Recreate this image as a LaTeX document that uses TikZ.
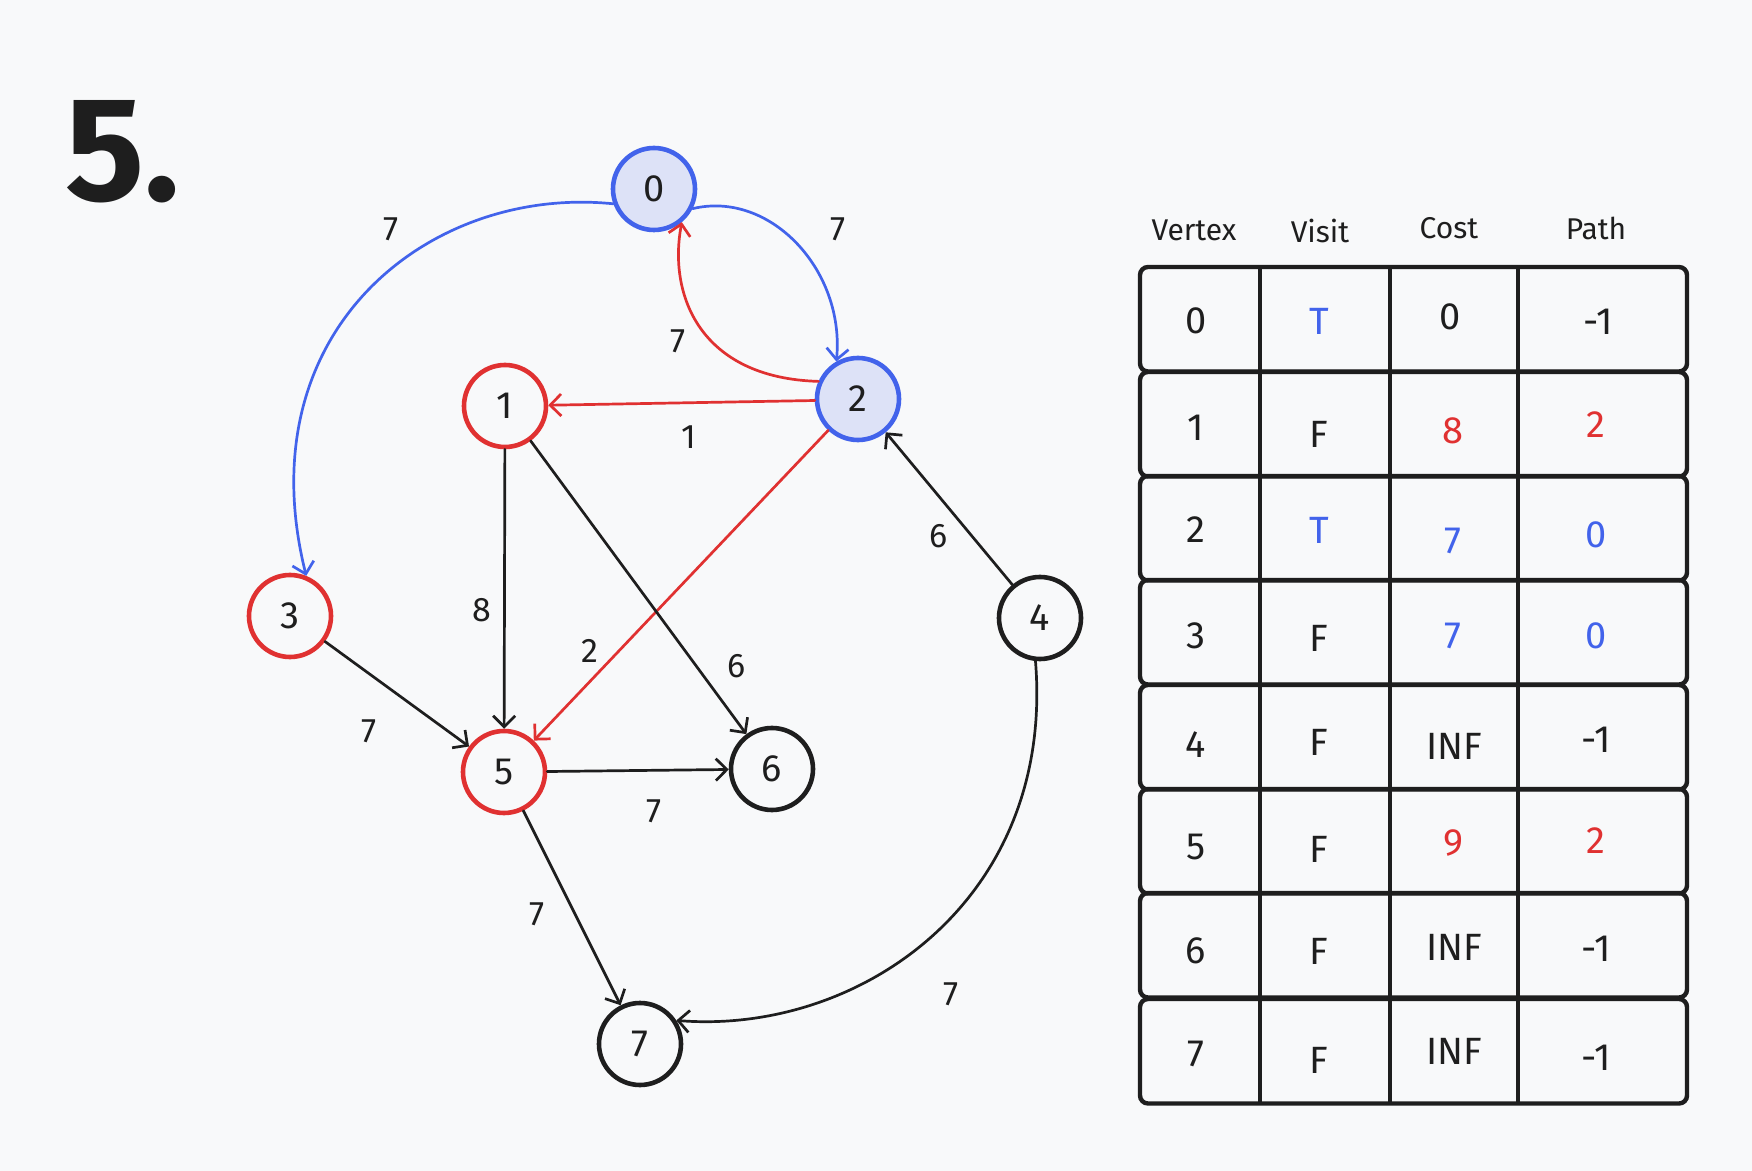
\documentclass[tikz,border=0pt]{standalone}
\usepackage{fontspec}
\setmainfont{Fira Sans}
\usetikzlibrary{arrows.meta}
\definecolor{exblue}{HTML}{4263EB}
\definecolor{exred}{HTML}{E03131}
\definecolor{exblack}{HTML}{1E1E1E}
\definecolor{exfill}{HTML}{DDE2F7}
\definecolor{bg}{HTML}{F8F9FA}
\tikzset{
  vtx/.style={circle, draw=exblack, line width=2.3pt, minimum size=41pt, inner sep=0pt, font=\fontsize{19}{19}\selectfont, text=exblack},
  vred/.style={vtx, draw=exred},
  vblue/.style={vtx, draw=exblue, fill=exfill},
  edge/.style={line width=1.35pt, draw=exblack, -{Straight Barb[length=5.5pt,width=11pt,line width=1.35pt]}, line cap=round},
  bedge/.style={edge, draw=exblue},
  redge/.style={edge, draw=exred},
  wlbl/.style={font=\fontsize{17}{17}\selectfont, text=exblack, inner sep=0pt},
  rowbox/.style={draw=exblack, line width=2.2pt, rounded corners=4pt},
  coldiv/.style={draw=exblack, line width=2.2pt},
  cell/.style={font=\fontsize{19}{19}\selectfont, text=exblack, inner sep=0pt},
  hdr/.style={font=\fontsize{15}{15}\selectfont, text=exblack, inner sep=0pt}
}
\begin{document}
\begin{tikzpicture}[x=0.5pt,y=-0.5pt]
\useasboundingbox[fill=bg] (0,0) rectangle (1752,1171);

% title
\node[font=\fontsize{74}{74}\selectfont\bfseries, text=exblack, inner sep=0pt] (title) at (123,152) {5.};

% vertices
\node[vblue] (n0) at (654,189) {0};
\node[vred]  (n1) at (505,406) {1};
\node[vblue] (n2) at (858,399) {2};
\node[vred]  (n3) at (290,616) {3};
\node[vtx]   (n4) at (1040,618) {4};
\node[vred]  (n5) at (504,772) {5};
\node[vtx]   (n6) at (772,769) {6};
\node[vtx]   (n7) at (640,1044) {7};

% edges
\draw[bedge] (n0.200) .. controls (430,185) and (245,330) .. (n3.68);
\draw[bedge] (n0.333) .. controls (770,190) and (845,270) .. (n2.120);
\draw[redge] (n2.156) .. controls (700,378) and (668,295) .. (n0.310);
\draw[redge] (n2.182) -- (n1);
\draw[redge] (n2) -- (n5);
\draw[edge] (n4) -- (n2);
\draw[edge] (n1) -- (n5);
\draw[edge] (n1) -- (n6);
\draw[edge] (n3) -- (n5);
\draw[edge] (n5) -- (n6);
\draw[edge] (n5) -- (n7);
\draw[edge] (n4.264) .. controls (1055,900) and (860,1035) .. (n7.33);

% edge weights
\node[wlbl] (w03) at (391,229) {7};
\node[wlbl] (w02) at (838,229) {7};
\node[wlbl] (w20) at (678,341) {7};
\node[wlbl] (w21) at (689,437) {1};
\node[wlbl] (w25) at (590,651) {2};
\node[wlbl] (w42) at (939,536) {6};
\node[wlbl] (w15) at (482,610) {8};
\node[wlbl] (w16) at (737,666) {6};
\node[wlbl] (w35) at (369,731) {7};
\node[wlbl] (w56) at (654,811) {7};
\node[wlbl] (w57) at (537,914) {7};
\node[wlbl] (w47) at (951,994) {7};

% table header
\node[hdr] (hV) at (1194,230) {Vertex};
\node[hdr] (hS) at (1320,231) {Visit};
\node[hdr] (hC) at (1449,228) {Cost};
\node[hdr] (hP) at (1596,228) {Path};

% table rows
\foreach \t [count=\i from 0] in {267,372,476,580,685,789,893,999} {
  \pgfmathsetmacro{\b}{\t+104.5}
  \draw[rowbox] (1140,\t) rectangle (1687,\b);
  \draw[coldiv] (1260,\t) -- (1260,\b);
  \draw[coldiv] (1390,\t) -- (1390,\b);
  \draw[coldiv] (1518,\t) -- (1518,\b);
}

% cells
\node[cell] (r0a) at (1196,321) {0};
\node[cell, text=exblue] (r0b) at (1319,321) {T};
\node[cell] (r0c) at (1450,317) {0};
\node[cell] (r0d) at (1598,322) {-1};

\node[cell] (r1a) at (1196,428) {1};
\node[cell] (r1b) at (1319,434) {F};
\node[cell, text=exred] (r1c) at (1453,431) {8};
\node[cell, text=exred] (r1d) at (1596,425) {2};

\node[cell] (r2a) at (1196,530) {2};
\node[cell, text=exblue] (r2b) at (1319,530) {T};
\node[cell, text=exblue] (r2c) at (1453,541) {7};
\node[cell, text=exblue] (r2d) at (1596,535) {0};

\node[cell] (r3a) at (1196,636) {3};
\node[cell] (r3b) at (1319,638) {F};
\node[cell, text=exblue] (r3c) at (1453,636) {7};
\node[cell, text=exblue] (r3d) at (1596,636) {0};

\node[cell] (r4a) at (1196,745) {4};
\node[cell] (r4b) at (1319,742) {F};
\node[cell] (r4c) at (1454,746) {INF};
\node[cell] (r4d) at (1596,740) {-1};

\node[cell] (r5a) at (1196,847) {5};
\node[cell] (r5b) at (1319,849) {F};
\node[cell, text=exred] (r5c) at (1453,843) {9};
\node[cell, text=exred] (r5d) at (1596,841) {2};

\node[cell] (r6a) at (1196,951) {6};
\node[cell] (r6b) at (1319,951) {F};
\node[cell] (r6c) at (1454,947) {INF};
\node[cell] (r6d) at (1596,949) {-1};

\node[cell] (r7a) at (1196,1054) {7};
\node[cell] (r7b) at (1319,1060) {F};
\node[cell] (r7c) at (1454,1051) {INF};
\node[cell] (r7d) at (1596,1058) {-1};
\end{tikzpicture}
\end{document}
